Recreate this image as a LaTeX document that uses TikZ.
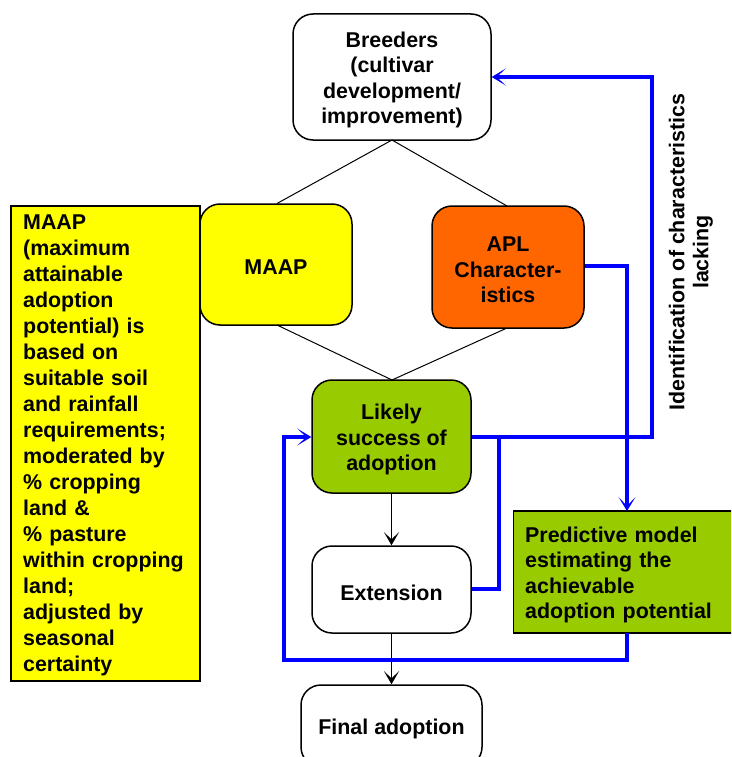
\documentclass[tikz,border=0pt]{standalone}
\usepackage{fontspec}
\setmainfont{Liberation Sans}
\usetikzlibrary{arrows.meta}
\definecolor{myyellow}{HTML}{FFFF00}
\definecolor{myorange}{HTML}{FF6600}
\definecolor{mygreen}{HTML}{99CC00}
\definecolor{myblue}{HTML}{0000FF}
\begin{document}
\begin{tikzpicture}[x=1pt,y=-1pt,
  font=\fontsize{21.4}{25.5}\selectfont\bfseries,
  rbox/.style={draw=black, line width=1.5pt, rounded corners=20pt, inner sep=0pt},
  sbox/.style={draw=black, line width=1.5pt, inner sep=0pt},
  txt/.style={align=center, inner sep=0pt, yshift=-3pt},
  ltxt/.style={align=left, inner sep=0pt, yshift=-3pt},
  thin/.style={draw=black, line width=1pt},
  blk/.style={draw=black, line width=1.5pt, -{Stealth[length=13pt,width=15pt,inset=7pt]}},
  blu/.style={draw=myblue, line width=4pt},
  bluarr/.style={blu, -{Stealth[length=14pt,width=17pt,inset=9pt]}}]
\useasboundingbox (0,0) rectangle (731,757);
\begin{scope}
\clip (0,0) rectangle (731,757);
% nodes
\node[rbox, fill=white, minimum width=198pt, minimum height=126pt,
  label={[txt, name=breedT]center:Breeders\\(cultivar\\development/\\improvement)}] (breed) at (392,77) {};
\node[rbox, fill=myyellow, minimum width=152pt, minimum height=121pt,
  label={[txt, name=maapT]center:MAAP}] (maap) at (276,264.5) {};
\node[rbox, fill=myorange, minimum width=152pt, minimum height=122pt,
  label={[txt, name=aplT]center:APL\\Character-\\istics}] (apl) at (508,267) {};
\node[rbox, fill=mygreen, minimum width=159pt, minimum height=113pt,
  label={[txt, name=likelyT]center:Likely\\success of\\adoption}] (likely) at (391.5,436.5) {};
\node[rbox, fill=white, minimum width=159pt, minimum height=87pt,
  label={[txt, name=extT]center:Extension}] (ext) at (391.5,589.5) {};
\node[rbox, fill=white, minimum width=181pt, minimum height=82pt,
  label={[txt, name=finalT]center:Final adoption}] (final) at (391.5,726) {};
\node[sbox, fill=myyellow, minimum width=189pt, minimum height=475pt] (desc) at (105.5,443.5) {};
\node[ltxt, text width=165pt, font=\fontsize{21.4}{26}\selectfont\bfseries, anchor=west, yshift=1pt] (descT) at (23,443.5) {MAAP\\(maximum\\attainable\\adoption\\potential) is\\based on\\suitable soil\\and rainfall\\requirements;\\moderated by\\\% cropping\\land \&\\\% pasture\\within cropping\\land;\\adjusted by\\seasonal\\certainty};
\node[sbox, fill=mygreen, minimum width=228pt, minimum height=122pt, anchor=west] (pred) at (512.5,572) {};
\node[ltxt, text width=204pt, anchor=west] (predT) at (525,572) {Predictive model\\estimating the\\achievable\\adoption potential};
\node[rotate=90, align=center, inner sep=0pt, font=\fontsize{21.4}{24}\selectfont\bfseries] (ident) at (691,252) {Identification of characteristics\\lacking};
% coordinates
\coordinate (bt) at (392,140);
\coordinate (mt) at (277,203.5);
\coordinate (at) at (507,206);
\coordinate (mb) at (277,325);
\coordinate (ab) at (507,328);
\coordinate (lt) at (392,380);
% thin lines
\draw[thin] (bt) -- (mt);
\draw[thin] (bt) -- (at);
\draw[thin] (mb) -- (lt);
\draw[thin] (ab) -- (lt);
% black arrows
\draw[blk] (likely.south) -- (ext.north);
\draw[blk] (ext.south) -- (final.north);
% blue connectors
\coordinate (c1) at (652,437);
\coordinate (c2) at (652,77);
\draw[bluarr] (likely.east |- c1) -- (c1) -- (c2) -- (breed.east |- c2);
\coordinate (c3) at (499,589);
\coordinate (c4) at (499,437);
\draw[blu] (ext.east |- c3) -- (c3) -- (c4);
\coordinate (c5) at (627,266);
\coordinate (c6) at (627,511);
\draw[bluarr] (apl.east |- c5) -- (c5) -- (c6);
\coordinate (c7) at (627,633);
\coordinate (c8) at (627,660);
\coordinate (c9) at (284,660);
\coordinate (c10) at (284,437);
\draw[bluarr] (c7) -- (c8) -- (c9) -- (c10) -- (likely.west |- c10);
\end{scope}
\end{tikzpicture}
\end{document}
